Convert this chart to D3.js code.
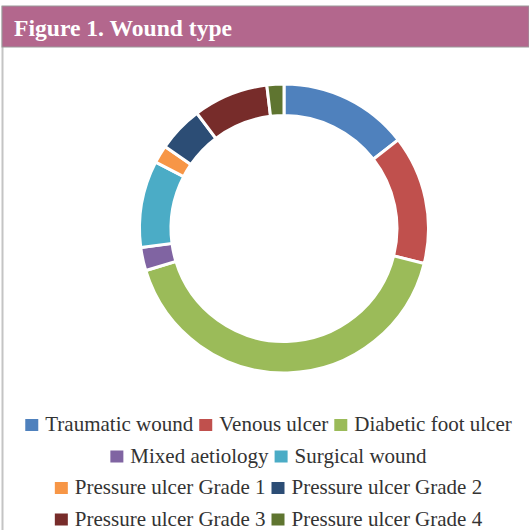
<!DOCTYPE html>
<html>
<head>
<meta charset="utf-8">
<script src="https://cdn.jsdelivr.net/npm/d3@7"></script>
<style>
  body { margin: 0; background: #fff; }
  svg { display: block; }
</style>
</head>
<body>
<svg id="chart" width="529" height="530"></svg>
<script>
const categories = [
  "Traumatic wound",
  "Venous ulcer",
  "Diabetic foot ulcer",
  "Mixed aetiology",
  "Surgical wound",
  "Pressure ulcer Grade 1",
  "Pressure ulcer Grade 2",
  "Pressure ulcer Grade 3",
  "Pressure ulcer Grade 4",
];
const values = [14.5, 14.4, 41.4, 2.6, 9.7, 2.0, 5.1, 8.4, 1.9];
const colors = [
  "#4f81bd", "#c0504d", "#9bbb59", "#8064a2", "#4bacc6",
  "#f79646", "#2c4d75", "#772c2a", "#5f7530",
];
// which legend entries sit on each legend row
const legendRows = [[0, 1, 2], [3, 4], [5, 6], [7, 8]];

const svg = d3.select("#chart");

// frame + title band
svg.append("line")
  .attr("x1", 2.5).attr("x2", 2.5)
  .attr("y1", 6).attr("y2", 530)
  .attr("stroke", "#c4c4c4").attr("stroke-width", 2);
svg.append("rect")
  .attr("x", 2).attr("y", 6)
  .attr("width", 527).attr("height", 41)
  .attr("fill", "#b3678d")
  .attr("stroke", "#9a9a9a").attr("stroke-width", 1);
svg.append("text")
  .attr("x", 14).attr("y", 36)
  .attr("fill", "#ffffff")
  .style("font-family", "'Liberation Serif', 'DejaVu Serif', serif")
  .style("font-weight", "bold")
  .style("font-size", "23.6px")
  .text("Figure 1. Wound type");

// donut
const cx = 284, cy = 228.5;
const pie = d3.pie().sort(null).value(d => d);
const arc = d3.arc().innerRadius(113).outerRadius(144.5);

svg.append("g")
  .attr("transform", "translate(" + cx + "," + cy + ")")
  .selectAll("path")
  .data(pie(values))
  .enter()
  .append("path")
  .attr("d", arc)
  .attr("fill", (d, i) => colors[i])
  .attr("stroke", "#fff")
  .attr("stroke-width", 3)
  .attr("stroke-linejoin", "miter");

// legend, centred rows
const legendCenter = 268.5;
const rowY = [431, 462.5, 494, 525.5];
const box = 13, boxGap = 7, itemGap = 6;

legendRows.forEach((row, r) => {
  const g = svg.append("g");
  let x = 0;
  row.forEach(i => {
    g.append("rect")
      .attr("x", x).attr("y", rowY[r] - 12)
      .attr("width", box).attr("height", 12)
      .attr("fill", colors[i]);
    const t = g.append("text")
      .attr("x", x + box + boxGap).attr("y", rowY[r])
      .attr("fill", "#333")
      .style("font-family", "'Liberation Serif', 'DejaVu Serif', serif")
      .style("font-size", "21px")
      .text(categories[i]);
    x += box + boxGap + t.node().getComputedTextLength() + itemGap;
  });
  const w = x - itemGap;
  g.attr("transform", "translate(" + (legendCenter - w / 2) + ",0)");
});
</script>
</body>
</html>
